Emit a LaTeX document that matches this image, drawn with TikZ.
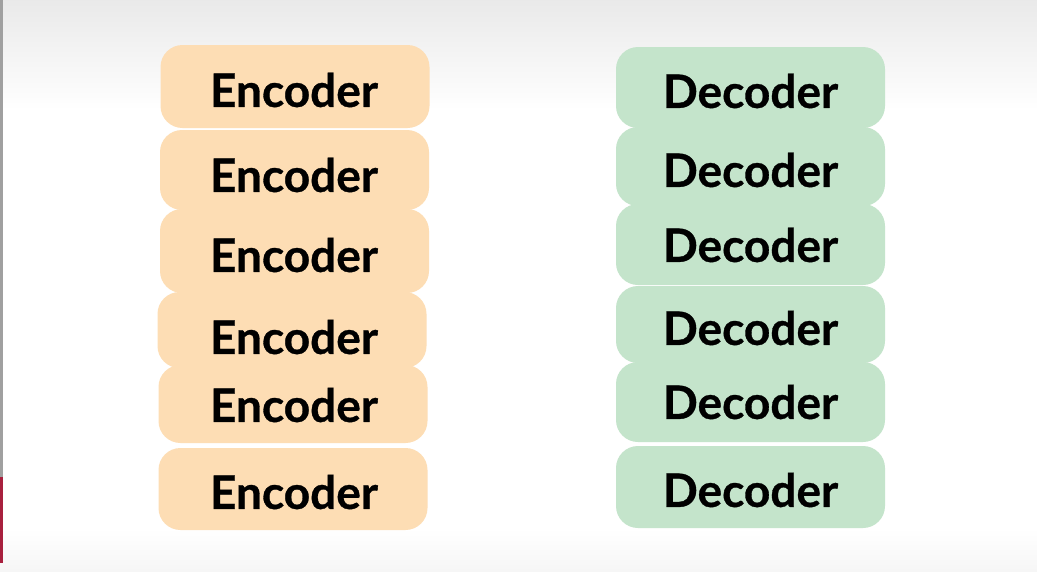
\documentclass[tikz,border=0pt]{standalone}
\usepackage{fontspec}
\setmainfont{Lato}[BoldFeatures={FakeBold=0.7}]
\usepackage{xcolor}
\usepackage{tikz}

\definecolor{encfill}{HTML}{FDDDB4}
\definecolor{decfill}{HTML}{C4E4CB}
\definecolor{edgegray}{HTML}{A0A0A0}
\definecolor{edgered}{HTML}{A8203E}

\begin{document}
\begin{tikzpicture}[x=1pt,y=-1pt,
  blockbox/.style={rounded corners=22pt,minimum width=#1,inner sep=0pt},
  encbox/.style={blockbox=269pt,fill=encfill},
  decbox/.style={blockbox=269pt,fill=decfill},
  blocktxt/.style={font=\fontsize{46}{50}\selectfont\bfseries,text=black,inner sep=0pt}]
  % page and the screen edge
  \fill[white] (0,0) rectangle (1037,571);
  \shade[top color=gray!17,bottom color=white] (0,0) rectangle (1037,110);
  \shade[top color=white,bottom color=gray!7] (0,528) rectangle (1037,571);
  \fill[edgegray] (0,0) rectangle (3,477);
  \fill[edgered] (0,477) rectangle (3,563);
  % encoder stack
  \foreach \n/\cx/\cy/\h/\ty in {1/295/86.5/83/90,2/294.5/170/80/175,
    3/294.5/251/84/255,4/292/330/76/337,5/293/404/78/405,6/293/489/82/492}{
    \node[encbox,minimum height=\h pt] (enc\n) at (\cx,\cy) {};
    \node[blocktxt] (enc\n txt) at (294,\ty) {Encoder};
  }
  % decoder stack
  \foreach \n/\cy/\h/\ty in {1/87.5/81/91,2/166.5/79/170,3/244.5/81/245,
    4/324.5/77/328,5/402/80/402,6/487/82/490}{
    \node[decbox,minimum height=\h pt] (dec\n) at (750.5,\cy) {};
    \node[blocktxt] (dec\n txt) at (750.5,\ty) {Decoder};
  }
\end{tikzpicture}
\end{document}
